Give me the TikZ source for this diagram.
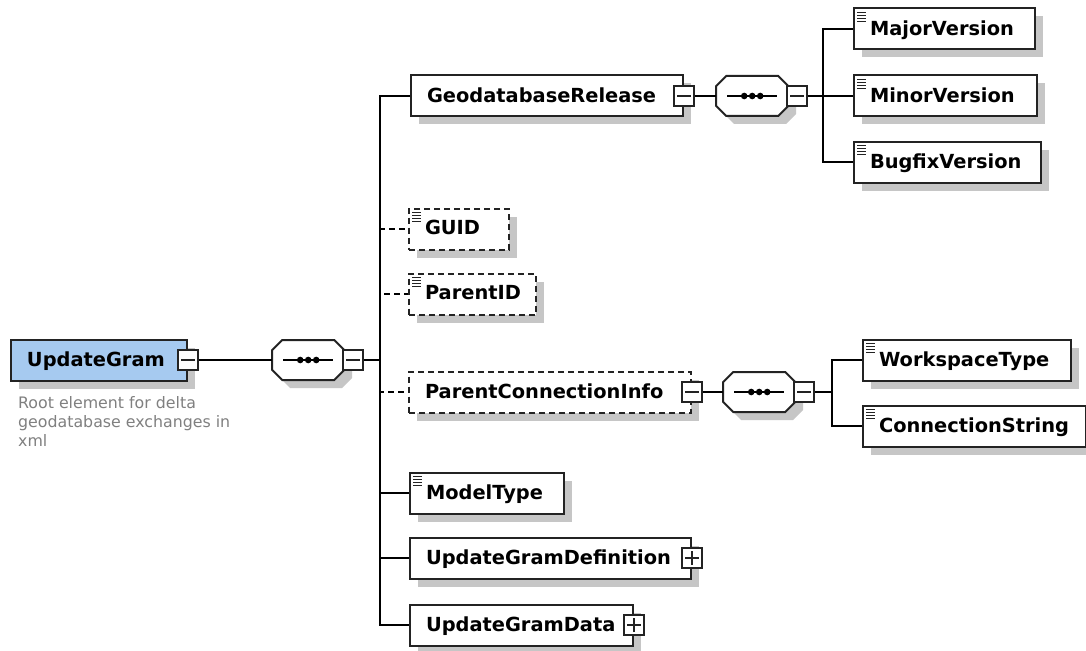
\documentclass[tikz,border=0pt]{standalone}
\usepackage{fontspec}
\newfontfamily\xsdfont{DejaVu Sans}
\usetikzlibrary{positioning,shadows}

\definecolor{rootblue}{RGB}{166,202,240}
\definecolor{shadowgray}{RGB}{198,198,198}
\definecolor{notegray}{RGB}{128,128,128}
\definecolor{linegray}{RGB}{35,35,35}

\tikzset{
  conn/.style={draw=black, line width=1.9pt},
  optional/.style={dash pattern=on 6pt off 4pt},
  boxshadow/.style={drop shadow={shadow xshift=8pt, shadow yshift=-8pt, fill=shadowgray, opacity=1}},
  elem/.style={draw=linegray, fill=white, line width=2pt, anchor=west, minimum height=41pt,
    inner xsep=16pt, inner ysep=0pt, align=left, text depth=.25em,
    font=\xsdfont\bfseries\fontsize{19.4pt}{22pt}\selectfont, boxshadow},
  leaf/.style={path picture={
    \foreach \k in {4,7,10,13}
      \draw[solid, line width=1.3pt] ([xshift=3pt,yshift=-\k pt]path picture bounding box.north west) -- ++(9pt,0);}},
  seq/.style={minimum width=72pt, minimum height=40pt, inner sep=0pt},
  minusbox/.style={draw=linegray, solid, fill=white, line width=2pt, inner sep=0pt,
    minimum width=20pt, minimum height=20pt, path picture={
    \draw[line width=1.6pt] ([xshift=3pt]path picture bounding box.west) -- ([xshift=-3pt]path picture bounding box.east);}},
  plusbox/.style={minusbox, path picture={
    \draw[line width=1.6pt] ([xshift=3pt]path picture bounding box.west) -- ([xshift=-3pt]path picture bounding box.east);
    \draw[line width=1.6pt] ([yshift=3pt]path picture bounding box.south) -- ([yshift=-3pt]path picture bounding box.north);}},
  note/.style={font=\xsdfont\fontsize{15.8pt}{19pt}\selectfont, text=notegray, align=left, inner sep=0pt}
}

% octagon of a sequence compositor, drawn round a seq node
\newcommand\seqoctagon{++(-26,-20) -- ++(52,0) -- ++(10,10) -- ++(0,20) -- ++(-10,10) -- ++(-52,0) -- ++(-10,-10) -- ++(0,-20) -- cycle}
\newcommand\seqglyph[1]{%
  \fill[shadowgray] ([shift={(8,8)}]#1.center) \seqoctagon;
  \filldraw[fill=white, draw=linegray, line width=2pt] (#1.center) \seqoctagon;
  \draw[line width=1.9pt] ([xshift=-25]#1.center) -- ([xshift=25]#1.center);
  \foreach \d in {-8,0,8}
    \fill ([xshift=\d]#1.center) circle (3.3);
}

\begin{document}
\begin{tikzpicture}[x=1pt,y=-1pt]
 \useasboundingbox (0,0) rectangle (1086,650);
 \fill[white] (0,0) rectangle (1086,650);
 %
 \node[elem, fill=rootblue, text width=144pt] (root) at (10,360) {UpdateGram};
 \node[minusbox] (rootX) at (root.east) {};
 \node[note, anchor=north west] (rootNote) at (18,396) {Root element for delta\\geodatabase exchanges in\\xml};
 \node[seq, right=73pt of rootX] (seqA) {};
 \seqglyph{seqA}
 \node[minusbox, anchor=west] (seqAX) at ([xshift=-2pt]seqA.east) {};
 \coordinate (trunkA) at (380,360);
 %
 \node[elem, text width=240pt] (geoRel) at (410,96) {GeodatabaseRelease};
 \node[minusbox] (geoRelX) at (geoRel.east) {};
 \node[elem, leaf, optional, text width=68pt] (guid) at (408,229) {GUID};
 \node[elem, leaf, optional, text width=95pt] (parentId) at (408,294) {ParentID};
 \node[elem, optional, text width=250pt] (parentConn) at (408,392) {ParentConnectionInfo};
 \node[minusbox] (parentConnX) at (parentConn.east) {};
 \node[elem, leaf, text width=122pt] (modelType) at (409,493) {ModelType};
 \node[elem, text width=249pt] (ugDef) at (409,558) {UpdateGramDefinition};
 \node[plusbox] (ugDefX) at (ugDef.east) {};
 \node[elem, text width=191pt] (ugData) at (409,625) {UpdateGramData};
 \node[plusbox] (ugDataX) at (ugData.east) {};
 %
 \node[seq, right=21pt of geoRelX] (seqB) {};
 \seqglyph{seqB}
 \node[minusbox, anchor=west] (seqBX) at ([xshift=-2pt]seqB.east) {};
 \coordinate (trunkB) at (823,96);
 \node[elem, leaf, text width=149pt] (major) at (853,29) {MajorVersion};
 \node[elem, leaf, text width=151pt] (minor) at (853,96) {MinorVersion};
 \node[elem, leaf, text width=155pt] (bugfix) at (853,162) {BugfixVersion};
 %
 \node[seq, right=20pt of parentConnX] (seqC) {};
 \seqglyph{seqC}
 \node[minusbox, anchor=west] (seqCX) at ([xshift=-2pt]seqC.east) {};
 \coordinate (trunkC) at (832,392);
 \node[elem, leaf, text width=176pt] (wsType) at (862,360) {WorkspaceType};
 \node[elem, leaf, text width=191pt] (connStr) at (862,426) {ConnectionString};
 %
 \draw[conn, optional] (trunkA) |- (guid.west);
 \draw[conn, optional] (trunkA) |- (parentId.west);
 \draw[conn, optional] (trunkA) |- (parentConn.west);
 \draw[conn] (rootX) -- (seqA);
 \draw[conn] (seqAX) -- (trunkA);
 \draw[conn] (trunkA) |- (geoRel.west);
 \draw[conn] (trunkA) |- (modelType.west);
 \draw[conn] (trunkA) |- (ugDef.west);
 \draw[conn] (trunkA) |- (ugData.west);
 %
 \draw[conn] (geoRelX) -- (seqB);
 \draw[conn] (seqBX) -- (trunkB);
 \draw[conn] (trunkB) |- (major.west);
 \draw[conn] (trunkB) |- (minor.west);
 \draw[conn] (trunkB) |- (bugfix.west);
 %
 \draw[conn] (parentConnX) -- (seqC);
 \draw[conn] (seqCX) -- (trunkC);
 \draw[conn] (trunkC) |- (wsType.west);
 \draw[conn] (trunkC) |- (connStr.west);
\end{tikzpicture}
\end{document}
